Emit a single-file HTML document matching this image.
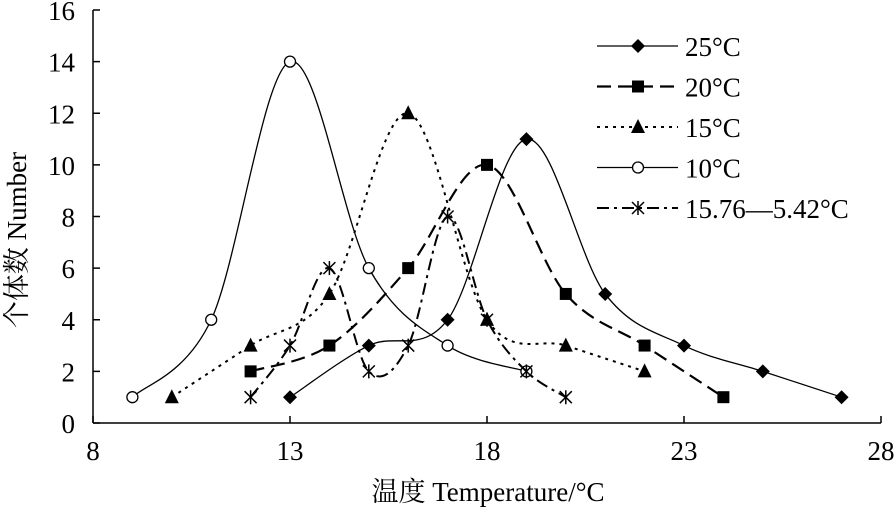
<!DOCTYPE html>
<html><head><meta charset="utf-8"><style>
html,body{margin:0;padding:0;background:#fff;}
svg{display:block;font-family:"Liberation Serif","Noto Serif CJK SC",serif;}
</style></head><body>
<svg id="chart" width="896" height="508" viewBox="0 0 896 508" xmlns="http://www.w3.org/2000/svg">
<g id="axes"></g><g id="series"></g><g id="legend"></g>
<text x="488" y="501" font-size="27" text-anchor="middle">温度 Temperature/°C</text>
<text transform="translate(26,240) rotate(-90)" font-size="27" text-anchor="middle">个体数 Number</text>
</svg>
<script>
const xTicks=[8,13,18,23,28];
const yTicks=[0,2,4,6,8,10,12,14,16];
const seriesNames=["25°C","20°C","15°C","10°C","15.76—5.42°C"];
const x25=[13,15,17,19,21,23,25,27];
const y25=[1,3,4,11,5,3,2,1];
const x20=[12,14,16,18,20,22,24];
const y20=[2,3,6,10,5,3,1];
const x15=[10,12,14,16,18,20,22];
const y15=[1,3,5,12,4,3,2];
const x10=[9,11,13,15,17,19];
const y10=[1,4,14,6,3,2];
const xMix=[12,13,14,15,16,17,18,19,20];
const yMix=[1,3,6,2,3,8,4,2,1];

const NS="http://www.w3.org/2000/svg";
const X0=93,X1=881,Y0=423,Y1=10;
const sx=v=>X0+(v-8)/(28-8)*(X1-X0);
const sy=v=>Y0-(v-0)/(16-0)*(Y0-Y1);
function mk(tag,attrs,parent){const e=document.createElementNS(NS,tag);for(const k in attrs)e.setAttribute(k,attrs[k]);parent.appendChild(e);return e;}
const axes=document.getElementById('axes'),ser=document.getElementById('series'),leg=document.getElementById('legend');
const xa=mk('line',{x1:X0,y1:Y0,x2:X1,y2:Y0,stroke:'#000','stroke-width':1.5},axes);


const ya=mk('line',{x1:X0,y1:Y0,x2:X0,y2:Y1,stroke:'#000','stroke-width':1.5},axes);


xTicks.forEach(t=>{
  mk('line',{x1:sx(t),y1:Y0,x2:sx(t),y2:Y0-7,stroke:'#000','stroke-width':1.5},axes);
  const tx=mk('text',{x:sx(t),y:Y0+37,'font-size':27,'text-anchor':'middle'},axes);tx.textContent=t;
  
  
});
yTicks.forEach(t=>{
  mk('line',{x1:X0,y1:sy(t),x2:X0+7,y2:sy(t),stroke:'#000','stroke-width':1.5},axes);
  const tx=mk('text',{x:X0-18,y:sy(t)+10,'font-size':27,'text-anchor':'end'},axes);tx.textContent=t;
  
  
});
function smooth(pts){
  let d=`M${pts[0][0]},${pts[0][1]}`;
  for(let i=0;i<pts.length-1;i++){
    const p0=pts[i-1]||pts[i],p1=pts[i],p2=pts[i+1],p3=pts[i+2]||p2;
    const c1=[p1[0]+(p2[0]-p0[0])/6,p1[1]+(p2[1]-p0[1])/6];
    const c2=[p2[0]-(p3[0]-p1[0])/6,p2[1]-(p3[1]-p1[1])/6];
    d+=` C${c1[0]},${c1[1]} ${c2[0]},${c2[1]} ${p2[0]},${p2[1]}`;
  }return d;
}
function marker(type,cx,cy,g){
  if(type==='diamond')return mk('polygon',{points:`${cx},${cy-7} ${cx+7},${cy} ${cx},${cy+7} ${cx-7},${cy}`,fill:'#000'},g);
  if(type==='square')return mk('rect',{x:cx-6,y:cy-6,width:12,height:12,fill:'#000'},g);
  if(type==='triangle')return mk('polygon',{points:`${cx},${cy-8} ${cx+7},${cy+6} ${cx-7},${cy+6}`,fill:'#000'},g);
  if(type==='circle')return mk('circle',{cx:cx,cy:cy,r:5.5,fill:'#fff',stroke:'#000','stroke-width':1.3},g);
  const s=mk('path',{d:`M${cx-6},${cy-6}L${cx+6},${cy+6}M${cx+6},${cy-6}L${cx-6},${cy+6}M${cx},${cy-7}L${cx},${cy+7}`,stroke:'#000','stroke-width':1.5},g);return s;
}
const defs=[
 {xs:x25,ys:y25,m:'diamond',dash:'',w:1.3,name:'series-25c'},
 {xs:x20,ys:y20,m:'square',dash:'14,7',w:2.2,name:'series-20c'},
 {xs:x15,ys:y15,m:'triangle',dash:'3,5',w:2,name:'series-15c'},
 {xs:x10,ys:y10,m:'circle',dash:'',w:1.3,name:'series-10c'},
 {xs:xMix,ys:yMix,m:'star',dash:'12,5,3,5',w:2,name:'series-variable'}
];
defs.forEach((s,i)=>{
  const g=mk('g',{},ser);
  
  
  const pts=s.xs.map((v,j)=>[sx(v),sy(s.ys[j])]);
  mk('path',{d:smooth(pts),fill:'none',stroke:'#000','stroke-width':s.w,'stroke-dasharray':s.dash},g);
  pts.forEach(p=>{const m=marker(s.m,p[0],p[1],g);
    
    });
  const ly=46+i*40.5;
  const lg=mk('g',{},leg);
  
  
  mk('line',{x1:597,y1:ly,x2:678,y2:ly,stroke:'#000','stroke-width':s.w,'stroke-dasharray':s.dash},lg);
  marker(s.m,638,ly,lg);
  const t=mk('text',{x:685,y:ly+10,'font-size':27},lg);t.textContent=seriesNames[i];
});
</script>
</body></html>
